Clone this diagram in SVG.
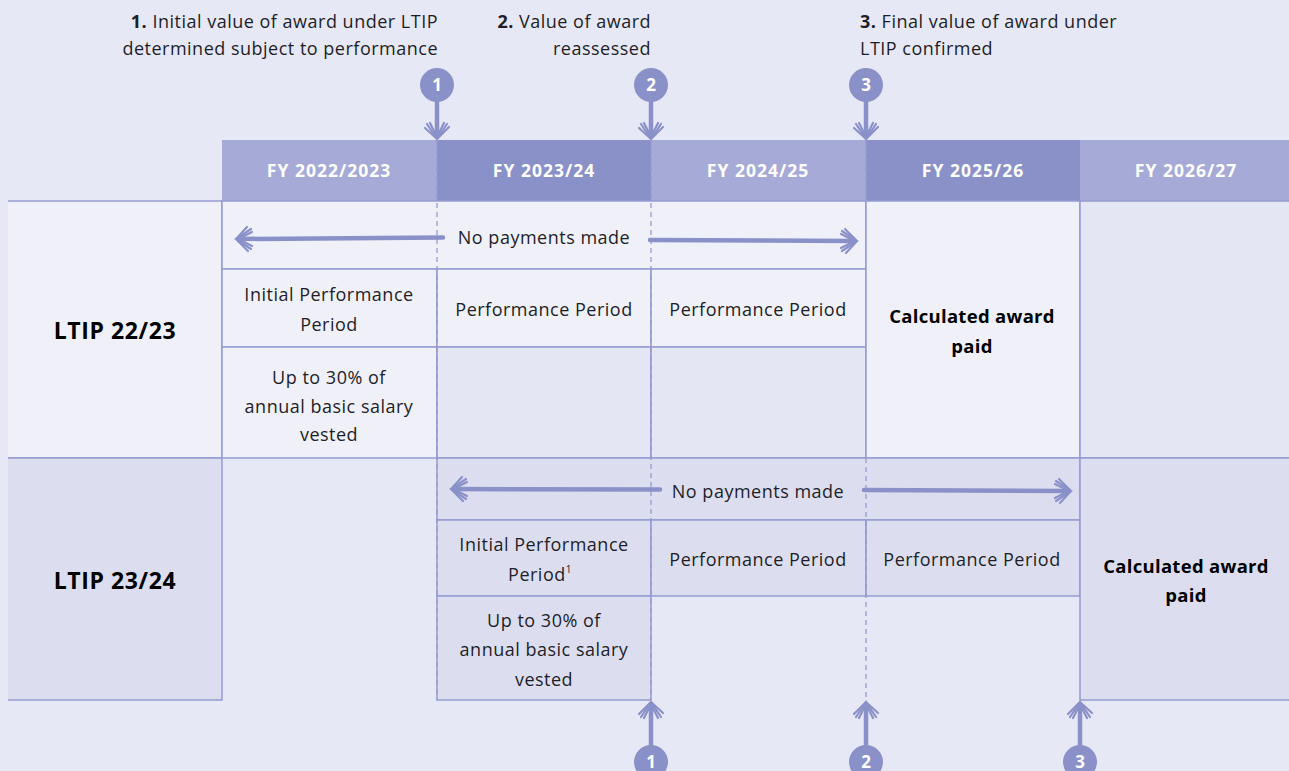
<svg xmlns="http://www.w3.org/2000/svg" xmlns:xlink="http://www.w3.org/1999/xlink" width="1289" height="771" viewBox="0 0 1289 771">
  <style>
    .bg { fill: #e6e8f5; }
    .cl { fill: #eff0f8; stroke: #959bd2; stroke-width: 1.5; }
    .cm { fill: #e4e6f4; stroke: #959bd2; stroke-width: 1.5; }
    .cd { fill: #dcdef0; stroke: #959bd2; stroke-width: 1.5; }
    .edge { stroke: #959bd2; stroke-width: 1.5; fill: none; }
    .hl { fill: #a6aad7; }
    .hd { fill: #8a91c8; }
    .ht { font-family: "Open Sans", "Liberation Sans", sans-serif; font-weight: 700; font-size: 17.5px; fill: #ffffff; text-anchor: middle; letter-spacing: 1px; }
    .t { font-family: "Open Sans", "Liberation Sans", sans-serif; font-size: 18px; fill: #1e1e28; text-anchor: middle; letter-spacing: 0.5px; }
    .tb { font-family: "Open Sans", "Liberation Sans", sans-serif; font-size: 18.5px; font-weight: 700; fill: #000000; text-anchor: middle; letter-spacing: 0.3px; }
    .lt { font-family: "Open Sans", "Liberation Sans", sans-serif; font-size: 23px; font-weight: 700; fill: #000000; text-anchor: middle; letter-spacing: 0.6px; }
    .note { font-family: "Open Sans", "Liberation Sans", sans-serif; font-size: 18px; fill: #1e1e28; letter-spacing: 0.5px; }
    .dash { stroke: #959bd2; stroke-width: 1.3; stroke-dasharray: 5 4; fill: none; }
    .shaft { stroke: #8a91c8; stroke-width: 4.5; stroke-linecap: round; fill: none; }
    .head { stroke: #8a91c8; stroke-width: 2.2; stroke-linecap: round; fill: none; }
    .badge { fill: #8a91c8; }
    .bn { font-family: "Open Sans", "Liberation Sans", sans-serif; font-size: 17px; font-weight: 700; fill: #ffffff; text-anchor: middle; }
  </style>
  <defs>
    <!-- sketchy open arrowhead, tip at origin, pointing right -->
    <g id="head">
      <path class="head" d="M-15,-10 L0,0 L-15,10"/>
      <path class="head" d="M-12,-12 L-1,-1 M-11,12 L-1,1 M-16,-7 L-2,0 M-16,7 L-2,0"/>
    </g>
  </defs>

  <rect class="bg" x="0" y="0" width="1289" height="771"/>

  <!-- year headers -->
  <g id="headers">
    <rect class="hl" x="222" y="140" width="215" height="61"/>
    <rect class="hd" x="437" y="140" width="214" height="61"/>
    <rect class="hl" x="651" y="140" width="215" height="61"/>
    <rect class="hd" x="866" y="140" width="214" height="61"/>
    <rect class="hl" x="1080" y="140" width="209" height="61"/>
    <text class="ht" x="329" y="177">FY 2022/2023</text>
    <text class="ht" x="544" y="177">FY 2023/24</text>
    <text class="ht" x="758" y="177">FY 2024/25</text>
    <text class="ht" x="973" y="177">FY 2025/26</text>
    <text class="ht" x="1186" y="177">FY 2026/27</text>
  </g>

  <!-- LTIP 22/23 row -->
  <g id="ltip2223">
    <rect fill="#eff0f8" x="8" y="201" width="214" height="257"/>
    <path class="edge" d="M8,201 H222 V458 H8"/>
    <text class="lt" x="115" y="339">LTIP 22/23</text>
    <rect class="cl" x="222" y="201" width="644" height="68"/>
    <rect class="cl" x="222" y="269" width="215" height="78"/>
    <rect class="cl" x="437" y="269" width="214" height="78"/>
    <rect class="cl" x="651" y="269" width="215" height="78"/>
    <rect class="cl" x="222" y="347" width="215" height="111"/>
    <rect class="cm" x="437" y="347" width="214" height="111"/>
    <rect class="cm" x="651" y="347" width="215" height="111"/>
    <rect class="cl" x="866" y="201" width="214" height="257"/>
    <rect class="cm" x="1080" y="201" width="212" height="257"/>
    <text class="t" x="329" y="301">Initial Performance</text>
    <text class="t" x="329" y="331">Period</text>
    <text class="t" x="544" y="316">Performance Period</text>
    <text class="t" x="758" y="316">Performance Period</text>
    <text class="t" x="329" y="384">Up to 30% of</text>
    <text class="t" x="329" y="413">annual basic salary</text>
    <text class="t" x="329" y="441">vested</text>
    <text class="tb" x="972" y="323">Calculated award</text>
    <text class="tb" x="972" y="353">paid</text>
    <text class="t" x="544" y="244">No payments made</text>
  </g>

  <!-- LTIP 23/24 row -->
  <g id="ltip2324">
    <rect fill="#dcdef0" x="8" y="458" width="214" height="242"/>
    <path class="edge" d="M8,458 H222 V700 H8"/>
    <text class="lt" x="115" y="589">LTIP 23/24</text>
    <rect class="cd" x="437" y="458" width="643" height="62"/>
    <rect class="cd" x="437" y="520" width="214" height="76"/>
    <rect class="cd" x="651" y="520" width="215" height="76"/>
    <rect class="cd" x="866" y="520" width="214" height="76"/>
    <rect class="cd" x="437" y="596" width="214" height="104"/>
    <rect class="cd" x="1080" y="458" width="212" height="242"/>
    <text class="t" x="544" y="551">Initial Performance</text>
    <text class="t" x="540" y="581">Period<tspan font-size="10" dy="-8">1</tspan></text>
    <text class="t" x="758" y="566">Performance Period</text>
    <text class="t" x="972" y="566">Performance Period</text>
    <text class="t" x="544" y="627">Up to 30% of</text>
    <text class="t" x="544" y="656">annual basic salary</text>
    <text class="t" x="544" y="686">vested</text>
    <text class="tb" x="1186" y="573">Calculated award</text>
    <text class="tb" x="1186" y="602">paid</text>
    <text class="t" x="758" y="498">No payments made</text>
  </g>

  <!-- milestone notes -->
  <g id="notes">
    <text class="note" text-anchor="end" x="438" y="28"><tspan font-weight="700">1.</tspan> Initial value of award under LTIP</text>
    <text class="note" text-anchor="end" x="438" y="55">determined subject to performance</text>
    <text class="note" text-anchor="end" x="651" y="28"><tspan font-weight="700">2.</tspan> Value of award</text>
    <text class="note" text-anchor="end" x="651" y="55">reassessed</text>
    <text class="note" x="860" y="28"><tspan font-weight="700">3.</tspan> Final value of award under</text>
    <text class="note" x="860" y="55">LTIP confirmed</text>
  </g>

  <!-- connectors -->
  <g id="connectors">
    <!-- milestone guide lines -->
    <path class="dash" d="M437,140 V700"/>
    <path class="dash" d="M651,140 V700"/>
    <path class="dash" d="M866,140 V201 M866,458 V700"/>

    <!-- no-payment spans -->
    <path class="shaft" d="M238,239 L443,237.5"/>
    <use xlink:href="#head" transform="translate(236,239) rotate(180)"/>
    <path class="shaft" d="M650,240 L855,241"/>
    <use xlink:href="#head" transform="translate(857,241)"/>
    <path class="shaft" d="M453,489 L660,489.5"/>
    <use xlink:href="#head" transform="translate(451,489) rotate(180)"/>
    <path class="shaft" d="M864,490 L1069,491"/>
    <use xlink:href="#head" transform="translate(1071,491)"/>

    <!-- top milestone arrows -->
    <path class="shaft" d="M437,100 V137"/>
    <use xlink:href="#head" transform="translate(437,139) rotate(90)"/>
    <path class="shaft" d="M651,100 V137"/>
    <use xlink:href="#head" transform="translate(651,139) rotate(90)"/>
    <path class="shaft" d="M866,100 V137"/>
    <use xlink:href="#head" transform="translate(866,139) rotate(90)"/>

    <!-- bottom milestone arrows -->
    <path class="shaft" d="M651,745 V704"/>
    <use xlink:href="#head" transform="translate(651,702) rotate(-90)"/>
    <path class="shaft" d="M866,745 V704"/>
    <use xlink:href="#head" transform="translate(866,702) rotate(-90)"/>
    <path class="shaft" d="M1080,745 V704"/>
    <use xlink:href="#head" transform="translate(1080,702) rotate(-90)"/>
  </g>

  <!-- milestone badges -->
  <g id="badge-top-1"><circle class="badge" cx="437" cy="85" r="17"/><text class="bn" x="437" y="91">1</text></g>
  <g id="badge-top-2"><circle class="badge" cx="651" cy="85" r="17"/><text class="bn" x="651" y="91">2</text></g>
  <g id="badge-top-3"><circle class="badge" cx="866" cy="85" r="17"/><text class="bn" x="866" y="91">3</text></g>
  <g id="badge-bottom-1"><circle class="badge" cx="651" cy="762" r="17"/><text class="bn" x="651" y="768">1</text></g>
  <g id="badge-bottom-2"><circle class="badge" cx="866" cy="762" r="17"/><text class="bn" x="866" y="768">2</text></g>
  <g id="badge-bottom-3"><circle class="badge" cx="1080" cy="762" r="17"/><text class="bn" x="1080" y="768">3</text></g>
</svg>
